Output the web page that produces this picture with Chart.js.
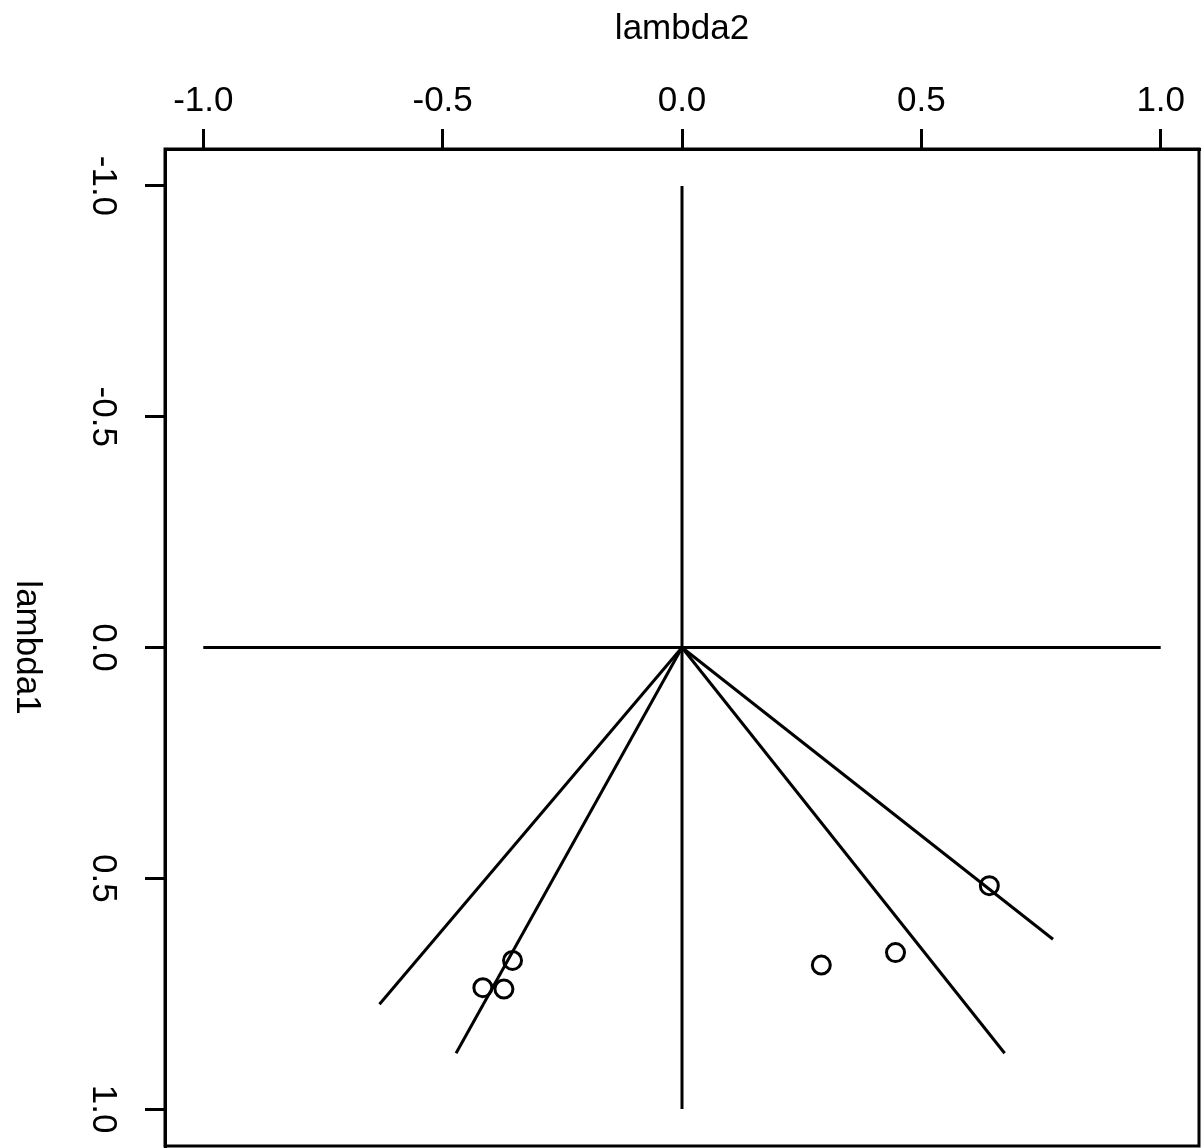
<!DOCTYPE html>
<html>
<head>
<meta charset="utf-8" />
<title>lambda1 / lambda2</title>
<script src="https://cdn.jsdelivr.net/npm/chart.js@4/dist/chart.umd.min.js"></script>
<style>
  html, body { margin: 0; padding: 0; background: #fff; }
  canvas { display: block; }
</style>
</head>
<body>
<canvas id="c" width="1202" height="1148"></canvas>
<script>
// ticks for both axes
const xTicks = [-1.0, -0.5, 0.0, 0.5, 1.0];
const yTicks = [-1.0, -0.5, 0.0, 0.5, 1.0];

// points (lambda2 = x, lambda1 = y)
const ptLambda2 = [-0.354, -0.416, -0.372, 0.642, 0.446, 0.291];
const ptLambda1 = [0.678, 0.737, 0.740, 0.516, 0.661, 0.688];

// rays from the origin: end points
const rayLambda2 = [-0.632, -0.472, 0.674, 0.775];
const rayLambda1 = [0.773, 0.879, 0.879, 0.632];

// reference axes through the origin
const vLine = [[0, -1], [0, 1]];
const hLine = [[-1, 0], [1, 0]];

const FONT = "'Liberation Sans', Arial, sans-serif";
const LW = 3;

function lineSet(pts) {
  return {
    type: 'scatter',
    data: pts.map(p => ({ x: p[0], y: p[1] })),
    showLine: true,
    borderColor: '#000',
    borderWidth: LW,
    pointRadius: 0,
    fill: false
  };
}

const datasets = [lineSet(vLine), lineSet(hLine)];
rayLambda2.forEach((x, i) => {
  datasets.push(lineSet([[0, 0], [x, rayLambda1[i]]]));
});
datasets.push({
  type: 'scatter',
  data: ptLambda2.map((x, i) => ({ x: x, y: ptLambda1[i] })),
  pointStyle: 'circle',
  pointRadius: 9,
  pointBorderWidth: LW,
  pointBorderColor: '#000',
  pointBackgroundColor: 'rgba(0,0,0,0)',
  showLine: false
});

// frame, y tick labels and y title (rotated clockwise as in the original)
const framePlugin = {
  id: 'frame',
  afterDraw(chart) {
    const ctx = chart.ctx;
    const a = chart.chartArea;
    const ys = chart.scales.y;
    ctx.save();
    ctx.strokeStyle = '#000';
    ctx.lineWidth = LW;
    ctx.strokeRect(a.left, a.top, a.right - a.left, a.bottom - a.top);

    ctx.fillStyle = '#000';
    ctx.font = '35px ' + FONT;
    ctx.textAlign = 'center';
    ctx.textBaseline = 'middle';
    ys.ticks.forEach(t => {
      const py = ys.getPixelForValue(t.value);
      ctx.save();
      ctx.translate(a.left - 62, py);
      ctx.rotate(Math.PI / 2);
      ctx.fillText(t.value.toFixed(1), 0, 0);
      ctx.restore();
    });

    ctx.save();
    ctx.translate(27, (a.top + a.bottom) / 2);
    ctx.rotate(Math.PI / 2);
    ctx.fillText('lambda1', 0, 0);
    ctx.restore();
    ctx.restore();
  }
};

new Chart(document.getElementById('c'), {
  type: 'scatter',
  data: { datasets },
  options: {
    responsive: false,
    animation: false,
    layout: {
      autoPadding: false,
      padding: { top: 0, left: 0, right: 3, bottom: 2 }
    },
    plugins: { legend: { display: false }, tooltip: { enabled: false } },
    scales: {
      x: {
        type: 'linear',
        position: 'top',
        min: -1.08,
        max: 1.08,
        afterBuildTicks: s => { s.ticks = xTicks.map(v => ({ value: v })); },
        afterFit: s => {
          s.height = 149;
          s.paddingLeft = 0;
          s.paddingRight = 0;
        },
        ticks: {
          color: '#000',
          font: { family: FONT, size: 35 },
          padding: 7,
          maxRotation: 0,
          autoSkip: false,
          callback: v => Number(v).toFixed(1)
        },
        grid: {
          display: true,
          drawOnChartArea: false,
          drawTicks: true,
          tickLength: 20,
          color: '#000',
          lineWidth: LW
        },
        border: { display: true, color: '#000', width: LW },
        title: {
          display: true,
          text: 'lambda2',
          color: '#000',
          font: { family: FONT, size: 35 },
          padding: { top: 8, bottom: 0 }
        }
      },
      y: {
        type: 'linear',
        position: 'left',
        reverse: true,
        min: -1.08,
        max: 1.08,
        afterBuildTicks: s => { s.ticks = yTicks.map(v => ({ value: v })); },
        afterFit: s => {
          s.width = 165;
          s.paddingTop = 0;
          s.paddingBottom = 0;
        },
        ticks: { color: 'rgba(0,0,0,0)', autoSkip: false },
        grid: {
          display: true,
          drawOnChartArea: false,
          drawTicks: true,
          tickLength: 20,
          color: '#000',
          lineWidth: LW
        },
        border: { display: true, color: '#000', width: LW },
        title: { display: false }
      }
    }
  },
  plugins: [framePlugin]
});
</script>
</body>
</html>
